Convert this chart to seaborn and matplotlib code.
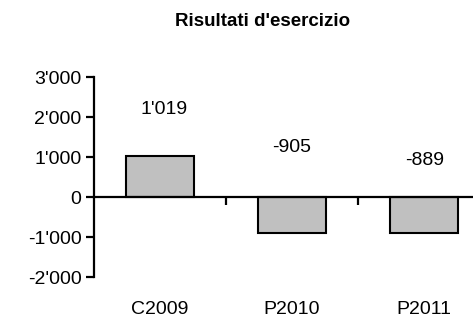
import matplotlib
matplotlib.use("Agg")
import matplotlib.pyplot as plt
import seaborn as sns
import pandas as pd

categories = ["C2009", "P2010", "P2011"]
values = [1019, -905, -889]
value_labels = ["1'019", "-905", "-889"]
yticks = [3000, 2000, 1000, 0, -1000, -2000]
ytick_labels = ["3'000", "2'000", "1'000", "0", "-1'000", "-2'000"]

# layout: vertical position of value labels (Excel placement)
label_y = [2200, 1237, 912]

sns.set_theme(style="white")
plt.rcParams["font.family"] = ["Liberation Sans", "DejaVu Sans"]
fs = 14

df = pd.DataFrame({"cat": categories, "val": values})

fig = plt.figure(figsize=(4.73, 3.18), dpi=100)
ax = fig.add_axes([94 / 473, 41 / 318, 1 - 94 / 473, 200 / 318])

sns.barplot(data=df, x="cat", y="val", ax=ax, color="#c0c0c0", saturation=1,
            width=0.52, edgecolor="black", linewidth=1.5)

ax.set_ylim(-2000, 3000)
ax.set_xlim(-0.5, 2.37)
ax.set_yticks(yticks)
ax.set_yticklabels(ytick_labels, fontsize=fs)
ax.set_xticks([0.5, 1.5])
ax.set_xticklabels([])
ax.set_xlabel("")
ax.set_ylabel("")

for s in ["top", "right"]:
    ax.spines[s].set_visible(False)
ax.spines["bottom"].set_position(("data", 0))
for s in ["left", "bottom"]:
    ax.spines[s].set_color("black")
    ax.spines[s].set_linewidth(1.6)
ax.tick_params(axis="y", direction="out", length=6, width=1.6, color="black",
               left=True, pad=3, labelcolor="black")
ax.tick_params(axis="x", direction="out", length=6, width=1.6, color="black",
               bottom=True)

for i, (lab, ly) in enumerate(zip(value_labels, label_y)):
    ax.text(i + 0.03 * (i == 0), ly, lab, ha="center", va="center",
            fontsize=fs, color="black")

for i, c in enumerate(categories):
    ax.text(i, -2800, c, ha="center", va="center", fontsize=fs,
            color="black", clip_on=False)

fig.text(263 / 473, 1 - 22 / 318, "Risultati d'esercizio", ha="center",
         va="center", fontsize=13.5, fontweight="bold", color="black")

fig.savefig("out.png", dpi=100)
